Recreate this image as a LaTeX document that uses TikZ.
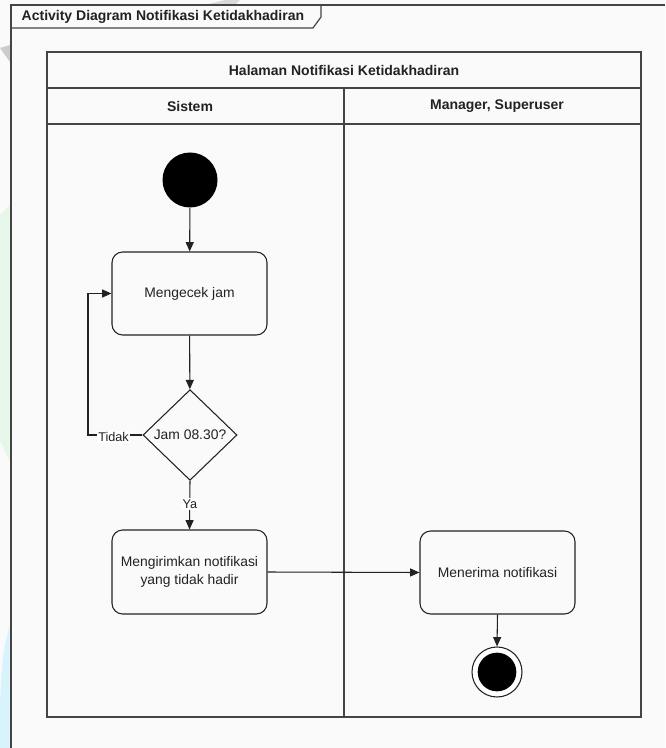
\documentclass[tikz,border=0pt]{standalone}
\usepackage{fontspec}
\setmainfont{Liberation Sans}
\usetikzlibrary{shapes.geometric,arrows.meta}
\definecolor{ink}{HTML}{222222}
\definecolor{framegray}{HTML}{444444}
\begin{document}
\begin{tikzpicture}[x=0.75pt,y=-0.75pt,
  every node/.style={font=\fontsize{10.4}{13}\selectfont, text=ink},
  frameline/.style={draw=framegray, line width=0.9pt},
  lane/.style={draw=framegray, line width=0.9pt},
  headtext/.style={font=\fontsize{10.5}{12.5}\selectfont\bfseries},
  actbox/.style={draw=ink, line width=0.8pt, rounded corners=8pt, minimum width=116.25pt, minimum height=62.25pt, align=center},
  decision/.style={draw=ink, line width=0.8pt, diamond, inner sep=0pt, minimum width=70.5pt, minimum height=68pt},
  flow/.style={draw=ink, line width=0.8pt, -{Triangle[length=7pt,width=6pt]}},
  guardlabel/.style={fill=white, inner sep=1pt, font=\fontsize{9.5}{11}\selectfont},
]
\useasboundingbox (0,0) rectangle (665,748);
\fill[white!98!black] (0,0) rectangle (665,748);

% faint background shapes
\fill[cyan!12!green!10] (0,215) -- (10,205) -- (10,462) -- (0,440) -- cycle;
\fill[cyan!15] (0,748) -- (0,700) .. controls (3,650) .. (10,625) -- (10,748) -- cycle;
\fill[black!20] (0,48) -- (10,45) -- (10,62) -- cycle;
\fill[black!15] (205,5) -- (225,0) -- (240,0) -- (235,5) -- cycle;

% diagram frame with title tab
\draw[frameline] (11,748) -- (11,5) -- (665,5);
\draw[frameline] (11,28) -- (313,28) -- (321,17) -- (321,5);
\node[anchor=west, headtext] (title) at (17,16.5) {Activity Diagram Notifikasi Ketidakhadiran};

% swimlane pool
\draw[lane] (47,52) rectangle (641,717);
\draw[lane] (47,88) -- (641,88);
\draw[lane] (47,124) -- (641,124);
\draw[lane] (344,88) -- (344,717);
\node[headtext] (pool) at (344,70) {Halaman Notifikasi Ketidakhadiran};
\node[headtext] (laneA) at (190,106) {Sistem};
\node[headtext] (laneB) at (497,106) {Manager, Superuser};

% activity nodes
\node[circle, fill=black, minimum size=41.25pt, inner sep=0pt] (start) at (190,180) {};
\node[actbox] (cek) at (189.5,293.5) {Mengecek jam};
\node[decision] (jam) at (190,435) {Jam 08.30?};
\node[actbox, minimum height=63pt] (kirim) at (189.5,572) {Mengirimkan notifikasi\\yang tidak hadir};
\node[actbox] (terima) at (497.5,572.5) {Menerima notifikasi};
\node[circle, draw=ink, line width=0.8pt, fill=white, minimum size=37.5pt, inner sep=0pt] (endring) at (497,672) {};
\node[circle, fill=black, minimum size=29pt, inner sep=0pt] (enddot) at (endring.center) {};

% connectors
\draw[flow] (start) -- (cek);
\draw[flow] (cek) -- (jam);
\coordinate (loopB) at (88,435);
\coordinate (loopT) at (88,293.5);
\draw[flow] (jam.west) -- (loopB) -- (loopT) -- (cek.west);
\node[guardlabel] (tidak) at (113.5,437) {Tidak};
\draw[flow] (jam.south) -- (kirim.north);
\node[guardlabel] (ya) at (190,504) {Ya};
\draw[flow] (kirim.east) -- (terima.west);
\draw[flow] (terima.south) -- (endring.north);
\end{tikzpicture}
\end{document}
